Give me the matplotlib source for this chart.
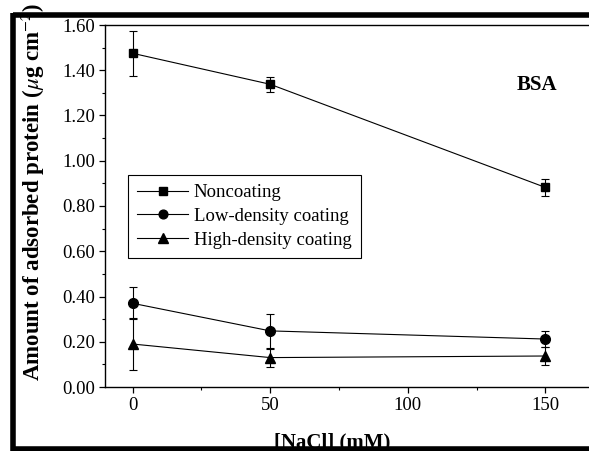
import matplotlib
matplotlib.use("Agg")
import matplotlib.pyplot as plt
from matplotlib.lines import Line2D
from matplotlib.ticker import MultipleLocator, FormatStrFormatter

plt.rcParams['font.family'] = ['Liberation Serif', 'DejaVu Serif']
plt.rcParams['mathtext.fontset'] = 'stix'

# data
nacl = [0, 50, 150]
noncoating = [1.475, 1.338, 0.882]
noncoating_err = [0.100, 0.033, 0.038]
low_density = [0.370, 0.248, 0.212]
low_density_err = [0.070, 0.075, 0.035]
high_density = [0.190, 0.130, 0.137]
high_density_err = [0.115, 0.040, 0.040]
series_names = ['Noncoating', 'Low-density coating', 'High-density coating']
markers = ['s', 'o', '^']
marker_sizes = [6, 7, 7.5]

W, H = 589, 451
fig = plt.figure(figsize=(W / 100, H / 100), dpi=100)
# axes in pixel units -> figure fraction
ax = fig.add_axes([105 / W, 64 / H, (595 - 105) / W, (387 - 25) / H])

kw = dict(color='black', lw=0.8, capsize=3, elinewidth=0.8, capthick=0.8)
all_y = [noncoating, low_density, high_density]
all_err = [noncoating_err, low_density_err, high_density_err]
for y, e, m, ms in zip(all_y, all_err, markers, marker_sizes):
    ax.errorbar(nacl, y, yerr=e, marker=m, ms=ms, **kw)

ax.set_xlim(-10, 168)
ax.set_ylim(0, 1.6)
ax.xaxis.set_major_locator(MultipleLocator(50))
ax.xaxis.set_minor_locator(MultipleLocator(25))
ax.yaxis.set_major_locator(MultipleLocator(0.2))
ax.yaxis.set_minor_locator(MultipleLocator(0.1))
ax.yaxis.set_major_formatter(FormatStrFormatter('%.2f'))
ax.tick_params(which='major', direction='out', length=4, width=0.9, labelsize=13.5, pad=3)
ax.tick_params(which='minor', direction='out', length=2.5, width=0.8)
for s in ax.spines.values():
    s.set_linewidth(1.0)

handles = [Line2D([], [], color='black', lw=0.8, marker=m, ms=ms * 0.9)
           for m, ms in zip(markers, marker_sizes)]
leg = ax.legend(handles, series_names, loc='upper left', bbox_to_anchor=(0.047, 0.586),
                borderaxespad=0, fontsize=13.5, frameon=True, fancybox=False,
                edgecolor='black', framealpha=1, handlelength=2.7, handletextpad=0.3,
                borderpad=0.5, labelspacing=0.35)
leg.get_frame().set_linewidth(0.8)

fig.text(537 / W, 1 - 85 / H, 'BSA', fontsize=15, fontweight='bold',
         ha='center', va='center')

fig.text(33 / W, 1 - 192 / H, r'Amount of adsorbed protein ($\mu$g cm$^{-2}$)',
         rotation=90, ha='center', va='center', fontsize=16.5, fontweight='bold')
fig.text(332 / W, 1 - 442 / H, '[NaCl] (mM)', ha='center', va='center',
         fontsize=15, fontweight='bold')

# thick scan frame around the figure
frame = dict(color='black', lw=4, solid_capstyle='butt', zorder=10)
fig.add_artist(Line2D([13 / W, 1], [1 - 14.5 / H, 1 - 14.5 / H], transform=fig.transFigure, **frame))
fig.add_artist(Line2D([13 / W, 13 / W], [1 - 12.5 / H, 0], transform=fig.transFigure, **frame))
fig.add_artist(Line2D([11 / W, 1], [1 - 449 / H, 1 - 449 / H], transform=fig.transFigure, **frame))

fig.savefig('out.png', dpi=100)
